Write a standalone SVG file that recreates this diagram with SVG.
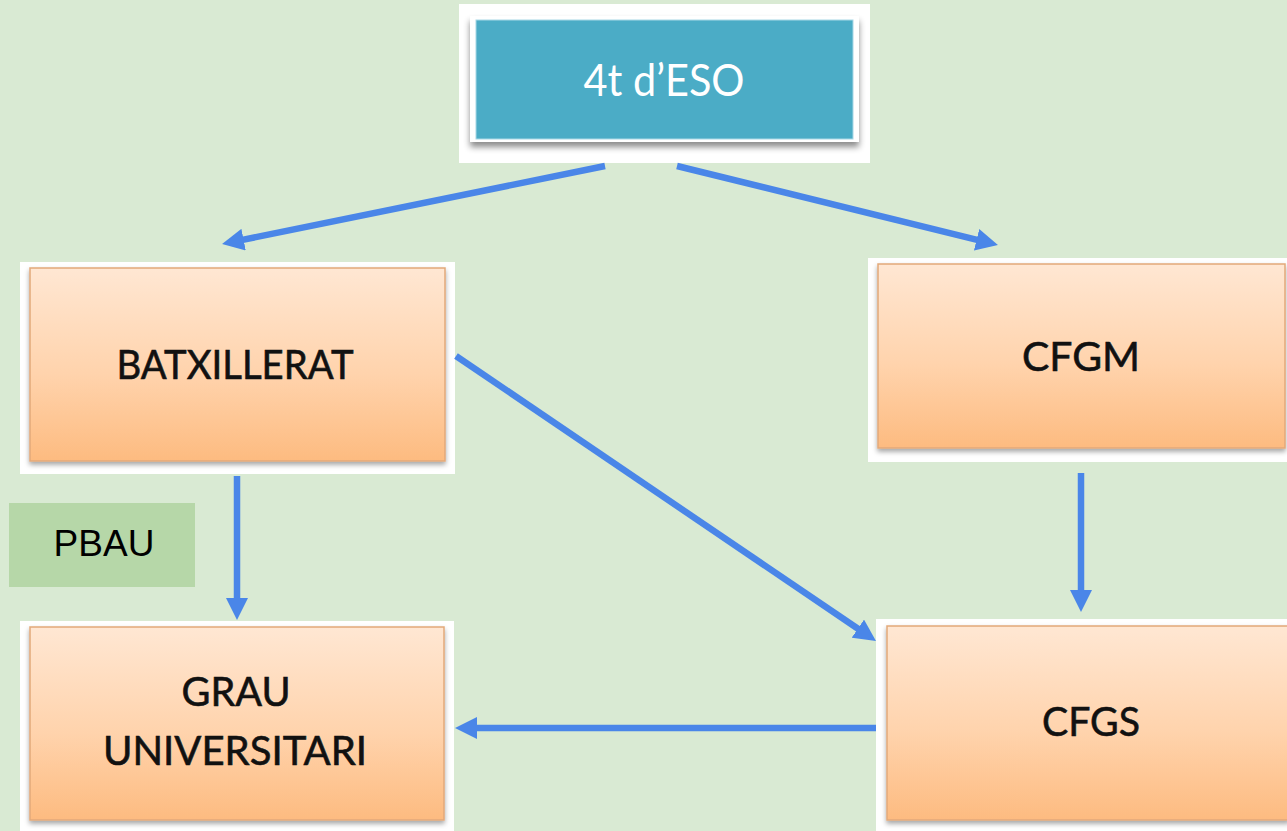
<svg xmlns="http://www.w3.org/2000/svg" width="1287" height="831" viewBox="0 0 1287 831">
<defs>
<linearGradient id="og" x1="0" y1="0" x2="0" y2="1">
<stop offset="0" stop-color="#ffe7d3"/>
<stop offset="0.55" stop-color="#ffd3ac"/>
<stop offset="1" stop-color="#fdbb80"/>
</linearGradient>
<filter id="sh" x="-10%" y="-10%" width="120%" height="130%">
<feDropShadow dx="0" dy="3" stdDeviation="2.5" flood-color="#000" flood-opacity="0.35"/>
</filter>
<filter id="sh2" x="-10%" y="-10%" width="120%" height="140%">
<feDropShadow dx="0" dy="5" stdDeviation="3" flood-color="#000" flood-opacity="0.45"/>
</filter>
<marker id="ah" viewBox="0 0 22 22" refX="10" refY="11" markerWidth="22" markerHeight="22" markerUnits="userSpaceOnUse" orient="auto">
<path d="M0,0 L22,11 L0,22 z" fill="#4a86e8"/>
</marker>
<style>
.frame{fill:#ffffff}
.box{fill:url(#og);stroke:#e2a97a;stroke-width:1.5;filter:url(#sh)}
.lbl{font-family:Lato,"Open Sans",sans-serif;font-size:40px;fill:#111;text-anchor:middle;stroke:#111;stroke-width:0.6}
.conn{stroke:#4a86e8;stroke-width:6.5;fill:none;marker-end:url(#ah)}
</style>
</defs>
<rect width="1287" height="831" fill="#d9ead3"/>
<g id="n-eso">
<rect class="frame" x="459" y="4" width="411" height="159"/>
<rect x="470" y="16" width="389" height="126" fill="#ffffff" filter="url(#sh2)"/>
<rect x="476" y="20" width="377" height="119" fill="#4bacc6" stroke="#a8d8e6" stroke-width="1"/>
<text x="664" y="96" font-family="Lato,'Open Sans',sans-serif" font-size="44" fill="#ffffff" text-anchor="middle" textLength="161" lengthAdjust="spacingAndGlyphs">4t d’ESO</text>
</g>
<g id="n-batx">
<rect class="frame" x="20" y="262" width="435" height="212"/>
<rect class="box" x="30" y="268" width="415" height="193"/>
<text class="lbl" x="235" y="379" textLength="237" lengthAdjust="spacingAndGlyphs">BATXILLERAT</text>
</g>
<g id="n-cfgm">
<rect class="frame" x="868" y="258" width="419" height="204"/>
<rect class="box" x="878" y="264" width="407" height="184"/>
<text class="lbl" x="1081" y="371" textLength="118" lengthAdjust="spacingAndGlyphs">CFGM</text>
</g>
<g id="n-grau">
<rect class="frame" x="20" y="621" width="434" height="210"/>
<rect class="box" x="30" y="627" width="414" height="193"/>
<text class="lbl" x="236" y="706" textLength="109" lengthAdjust="spacingAndGlyphs">GRAU</text>
<text class="lbl" x="235" y="765" textLength="264" lengthAdjust="spacingAndGlyphs">UNIVERSITARI</text>
</g>
<g id="n-cfgs">
<rect class="frame" x="876" y="619" width="411" height="212"/>
<rect class="box" x="887" y="626" width="402" height="194"/>
<text class="lbl" x="1091" y="736" textLength="98" lengthAdjust="spacingAndGlyphs">CFGS</text>
</g>
<g id="n-pbau">
<rect x="9" y="503" width="186" height="84" fill="#b6d7a8"/>
<text x="104" y="556" font-family="'Liberation Sans',Arial,sans-serif" font-size="37" fill="#000" text-anchor="middle">PBAU</text>
</g>
<g id="connectors">
<line class="conn" x1="605" y1="166" x2="233.8" y2="241.6"/>
<line class="conn" x1="677" y1="166" x2="986.3" y2="242.1"/>
<line class="conn" x1="237" y1="476" x2="237" y2="608"/>
<line class="conn" x1="456" y1="356" x2="866.1" y2="634.3"/>
<line class="conn" x1="1081" y1="473" x2="1081" y2="600"/>
<line class="conn" x1="876" y1="728" x2="467" y2="728"/>
</g>
</svg>
